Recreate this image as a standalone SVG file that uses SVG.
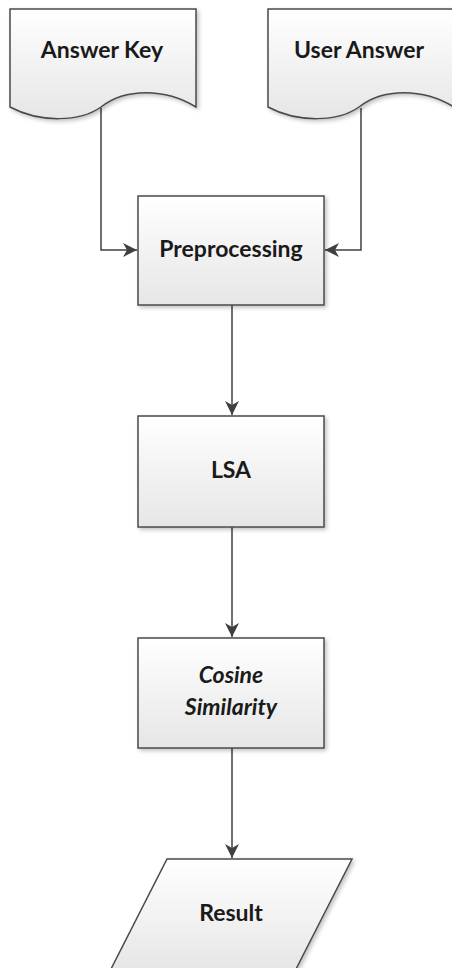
<svg xmlns="http://www.w3.org/2000/svg" width="452" height="968" viewBox="0 0 452 968">
<defs>
<linearGradient id="g" x1="0" y1="0" x2="0" y2="1">
<stop offset="0" stop-color="#ffffff"/>
<stop offset="1" stop-color="#e6e6e6"/>
</linearGradient>
<filter id="sh" x="-10%" y="-10%" width="130%" height="130%">
<feGaussianBlur in="SourceAlpha" stdDeviation="2"/>
<feOffset dx="2" dy="2"/>
<feComponentTransfer><feFuncA type="linear" slope="0.25"/></feComponentTransfer>
<feMerge><feMergeNode/><feMergeNode in="SourceGraphic"/></feMerge>
</filter>
<marker id="ah" viewBox="0 0 14 14" refX="14" refY="7" markerWidth="14" markerHeight="14" markerUnits="userSpaceOnUse" orient="auto">
<path d="M0,0 L14,7 L0,14 L4,7 Z" fill="#404040"/>
</marker>
</defs>
<style>
.shape{fill:url(#g);stroke:#4a4a4a;stroke-width:1.5;filter:url(#sh)}
.lbl{font-family:Lato,"Open Sans","Liberation Sans",sans-serif;font-weight:bold;font-size:23px;fill:#1a1a1a;text-anchor:middle}
.it{font-style:italic}
.conn{fill:none;stroke:#404040;stroke-width:1.5;marker-end:url(#ah)}
</style>
<rect width="452" height="968" fill="#ffffff"/>
<g id="connectors">
<path class="conn" d="M101,108 L101,250 L137,250"/>
<path class="conn" d="M361,108 L361,250 L325,250"/>
<path class="conn" d="M232,305 L232,415"/>
<path class="conn" d="M232,527 L232,637"/>
<path class="conn" d="M232,748 L232,858"/>
</g>
<g id="answer-key">
<path class="shape" d="M10,9 L196,9 L196,107 C165,88 125,88 101,107 C80,122 40,123 10,107 Z"/>
<text class="lbl" x="102" y="58">Answer Key</text>
</g>
<g id="user-answer">
<path class="shape" d="M268,9 L454,9 L454,107 C423,88 383,88 359,107 C338,122 298,123 268,107 Z"/>
<text class="lbl" x="359" y="58">User Answer</text>
</g>
<g id="preprocessing">
<rect class="shape" x="138" y="196" width="186" height="109"/>
<text class="lbl" x="231" y="257">Preprocessing</text>
</g>
<g id="lsa">
<rect class="shape" x="138" y="416" width="186" height="111"/>
<text class="lbl" x="231" y="478">LSA</text>
</g>
<g id="cosine">
<rect class="shape" x="138" y="638" width="186" height="110"/>
<text class="lbl it" x="231" y="683">Cosine</text>
<text class="lbl it" x="231" y="715">Similarity</text>
</g>
<g id="result">
<path class="shape" d="M167,859 L352,859 L295,971 L110,971 Z"/>
<text class="lbl" x="231" y="921">Result</text>
</g>
</svg>
